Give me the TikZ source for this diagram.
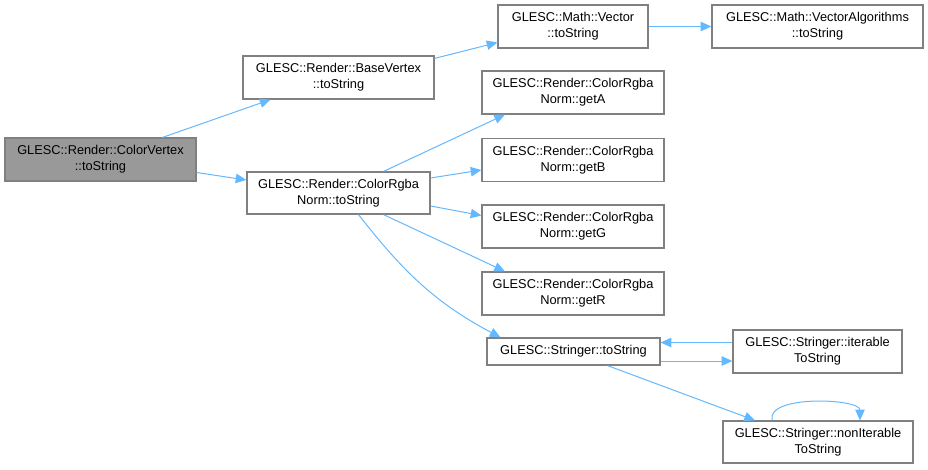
\documentclass[tikz,border=0pt]{standalone}
\usepackage{fontspec}
\setmainfont{Liberation Sans}
\usetikzlibrary{arrows.meta,calc}
\definecolor{edgeblue}{HTML}{63B8FF}
\definecolor{boxgrey}{HTML}{808080}
\definecolor{fillgrey}{HTML}{999999}
\begin{document}
\begin{tikzpicture}[x=0.75pt,y=-0.75pt,
  box/.style={draw=boxgrey,line width=0.9pt,fill=white,inner sep=0pt,align=center,
    font=\fontsize{9.6}{11.8}\selectfont},
  edge/.style={draw=edgeblue,line width=0.75pt,-{Triangle[length=8pt,width=7pt]}}]
\useasboundingbox (0,0) rectangle (928,469);
\node[box,fill=fillgrey,minimum width=191*0.75pt,minimum height=43*0.75pt] (cv) at (100.5,159.5) {GLESC::Render::ColorVertex\\::toString};
\node[box,minimum width=191*0.75pt,minimum height=43*0.75pt] (bv) at (338.5,77.5) {GLESC::Render::BaseVertex\\::toString};
\node[box,minimum width=183*0.75pt,minimum height=42*0.75pt] (crn) at (338.5,193) {GLESC::Render::ColorRgba\\Norm::toString};
\node[box,minimum width=150*0.75pt,minimum height=43*0.75pt] (vec) at (573,26.5) {GLESC::Math::Vector\\::toString};
\node[box,minimum width=211*0.75pt,minimum height=43*0.75pt] (va) at (817.5,26.5) {GLESC::Math::VectorAlgorithms\\::toString};
\node[box,minimum width=182*0.75pt,minimum height=43*0.75pt] (ga) at (573,92.5) {GLESC::Render::ColorRgba\\Norm::getA};
\node[box,minimum width=182*0.75pt,minimum height=43*0.75pt] (gb) at (573,160) {GLESC::Render::ColorRgba\\Norm::getB};
\node[box,minimum width=182*0.75pt,minimum height=43*0.75pt] (gg) at (573,226.5) {GLESC::Render::ColorRgba\\Norm::getG};
\node[box,minimum width=182*0.75pt,minimum height=43*0.75pt] (gr) at (573,293.5) {GLESC::Render::ColorRgba\\Norm::getR};
\node[box,minimum width=173*0.75pt,minimum height=27*0.75pt] (st) at (573.5,351.5) {GLESC::Stringer::toString};
\node[box,minimum width=169*0.75pt,minimum height=43*0.75pt] (it) at (817.5,351.5) {GLESC::Stringer::iterable\\ToString};
\node[box,minimum width=190*0.75pt,minimum height=42*0.75pt] (ni) at (818,442) {GLESC::Stringer::nonIterable\\ToString};

\draw[edge] ($(cv.north)+(62,0)$) -- ($(bv.south)+(-68,0)$);
\draw[edge] ($(cv.east)+(0,13)$) -- ($(crn.west)+(0,-13)$);
\draw[edge] ($(bv.north east)+(0,3)$) -- ($(vec.west)+(0,16)$);
\draw[edge] (vec.east) -- (va.west);
\draw[edge] ($(crn.north)+(45,0)$) -- ($(ga.south)+(-68,0)$);
\draw[edge] ($(crn.east)+(0,-15)$) -- ($(gb.west)+(0,10)$);
\draw[edge] ($(crn.east)+(0,13)$) -- ($(gg.west)+(0,-11)$);
\draw[edge] ($(crn.south)+(45,0)$) -- ($(gr.north)+(-68,0)$);
\draw[edge] ($(crn.south)+(20,0)$) to[out=-52,in=152] ($(st.north)+(-73,0)$);
\draw[edge] ($(st.east)+(0,9.5)$) -- ($(it.west)+(0,9.5)$);
\draw[edge] ($(it.west)+(0,-9)$) -- ($(st.east)+(0,-9)$);
\draw[edge] ($(st.south)+(34,0)$) -- ($(ni.north)+(-63,0)$);
\draw[edge] ($(ni.north)+(-46,0)$) .. controls +(-6,-26) and +(0,-22) .. ($(ni.north)+(42,0)$);
\end{tikzpicture}
\end{document}
